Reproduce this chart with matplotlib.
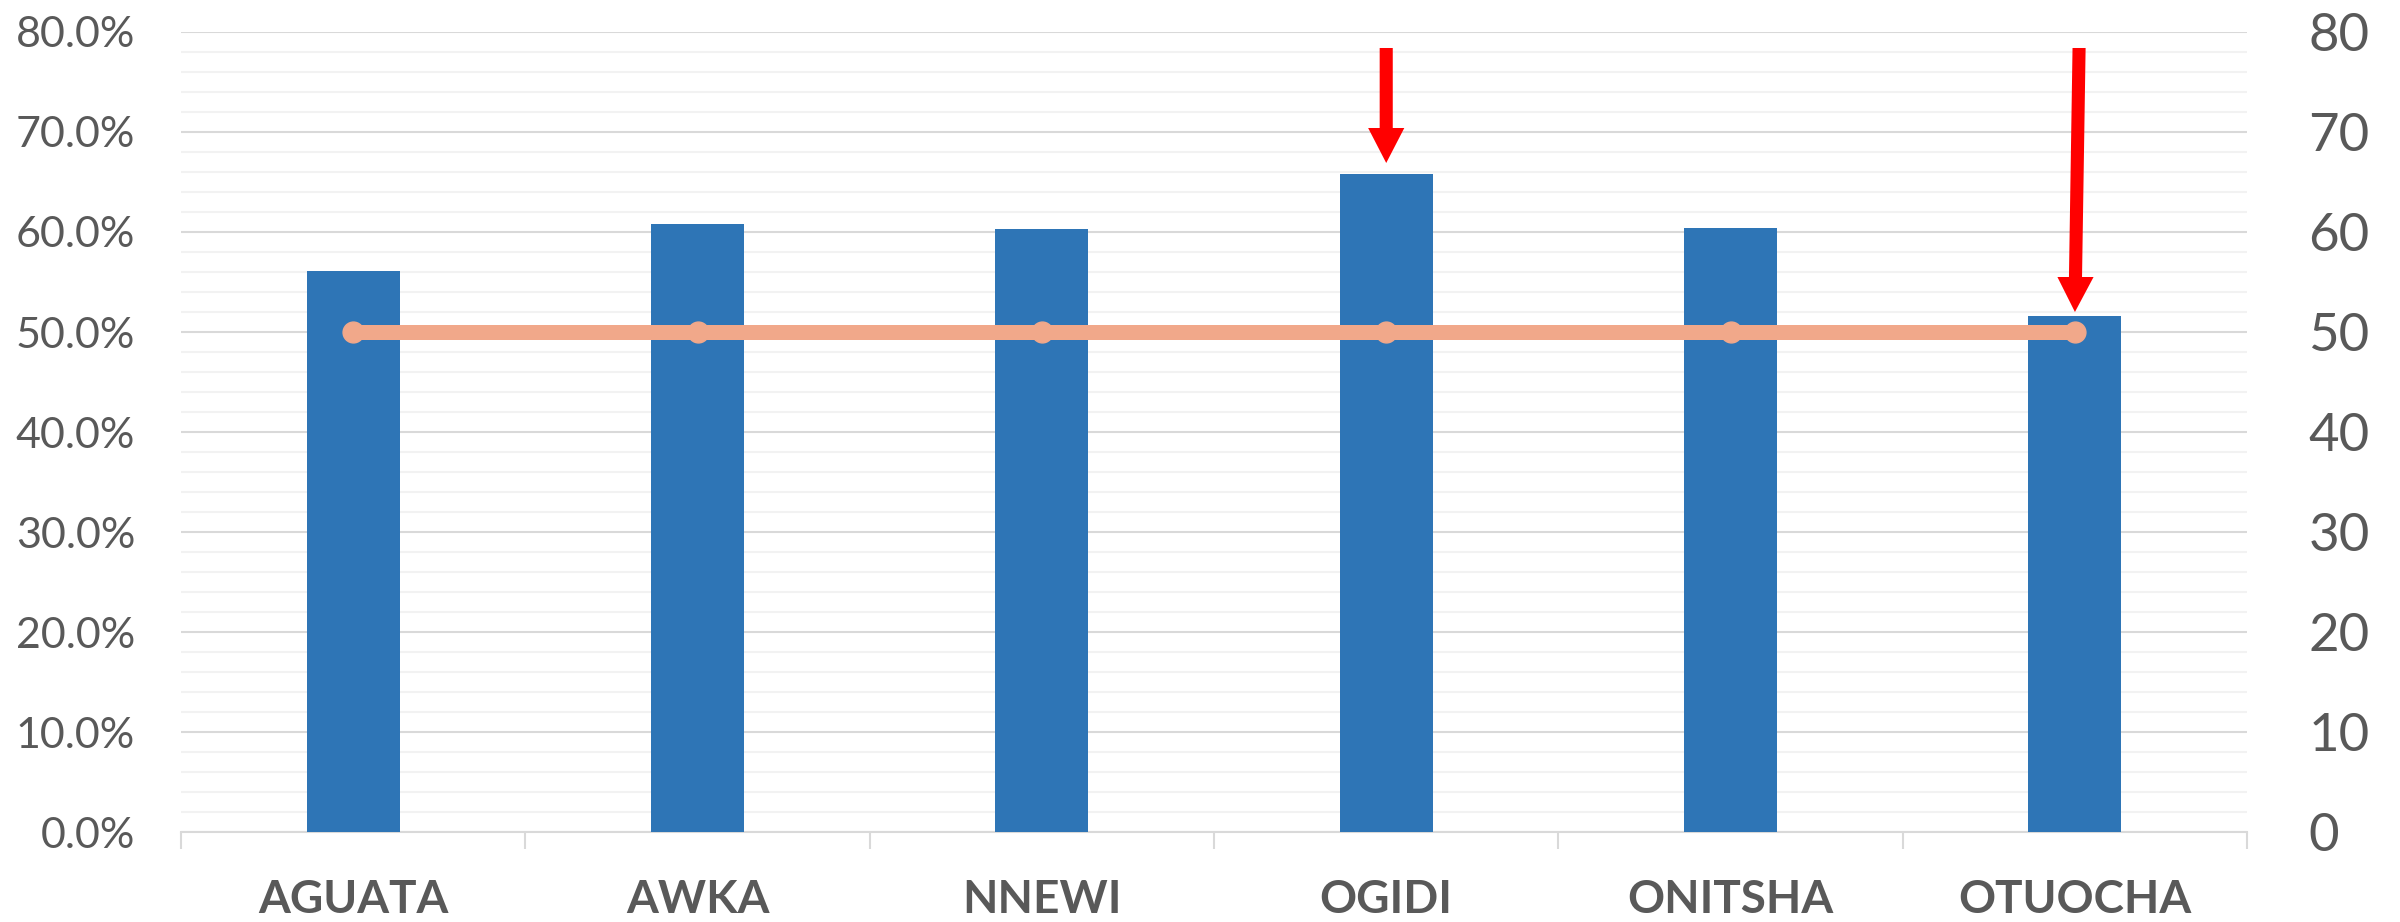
import matplotlib.pyplot as plt
from matplotlib.patches import FancyArrow
from matplotlib.ticker import PercentFormatter, MultipleLocator

# Pass rate per zone, with the 50 benchmark on the secondary axis
zones = ["AGUATA", "AWKA", "NNEWI", "OGIDI", "ONITSHA", "OTUOCHA"]
pass_rate = [0.561, 0.608, 0.603, 0.658, 0.604, 0.516]
benchmark = [50, 50, 50, 50, 50, 50]

# Red pointers: zone index, start height and tip height (secondary axis units)
arrow_zone = [3, 5]
arrow_top = [78.4, 78.4]
arrow_tip = [66.9, 52.0]
arrow_lean = [0.0, 0.012]

grey = "#595959"
plt.rcParams["font.family"] = ["Lato", "DejaVu Sans"]

fig = plt.figure(figsize=(24, 9.22), dpi=100)
ax = fig.add_axes([0.0754, 0.0976, 0.8609, 0.8677])

x = range(len(zones))
ax.bar(x, pass_rate, width=0.27, color="#2E75B6", zorder=3)

ax.set_ylim(0, 0.8)
ax.set_xlim(-0.5, len(zones) - 0.5)
ax.yaxis.set_major_locator(MultipleLocator(0.1))
ax.yaxis.set_minor_locator(MultipleLocator(0.02))
ax.yaxis.set_major_formatter(PercentFormatter(1, decimals=1))
ax.grid(axis="y", which="major", color="#d9d9d9", lw=1.5, zorder=0)
ax.grid(axis="y", which="minor", color="#f2f2f2", lw=1.5, zorder=0)
ax.set_axisbelow(True)

ax.set_xticks(list(x))
ax.set_xticklabels(zones, fontsize=33, fontweight="bold", color=grey)
ax.set_xticks([i - 0.5 for i in range(len(zones) + 1)], minor=True)
ax.tick_params(axis="x", which="major", length=0, pad=34)
ax.tick_params(axis="x", which="minor", length=12, width=1.5, color="#d9d9d9")
ax.tick_params(axis="y", which="both", length=0, pad=33, labelsize=31, labelcolor=grey)

for side in ["left", "right", "top"]:
    ax.spines[side].set_visible(False)
ax.spines["bottom"].set_color("#d9d9d9")
ax.spines["bottom"].set_linewidth(1.5)

# Secondary axis with the benchmark line
ax2 = ax.twinx()
ax2.plot(x, benchmark, color="#F1A88A", lw=10.8, marker="o", markersize=15,
         solid_capstyle="round", zorder=4)
ax2.set_ylim(0, 80)
ax2.yaxis.set_major_locator(MultipleLocator(10))
ax2.tick_params(axis="y", length=0, pad=44, labelsize=38, labelcolor=grey)
for side in ["left", "right", "top", "bottom"]:
    ax2.spines[side].set_visible(False)

for z, top, tip, lean in zip(arrow_zone, arrow_top, arrow_tip, arrow_lean):
    ax2.add_patch(FancyArrow(z + lean, top, -lean, tip - top, width=0.038,
                             head_width=0.105, head_length=3.5,
                             length_includes_head=True, color="#FF0000",
                             lw=0, zorder=6))

fig.savefig("out.png", dpi=100)
